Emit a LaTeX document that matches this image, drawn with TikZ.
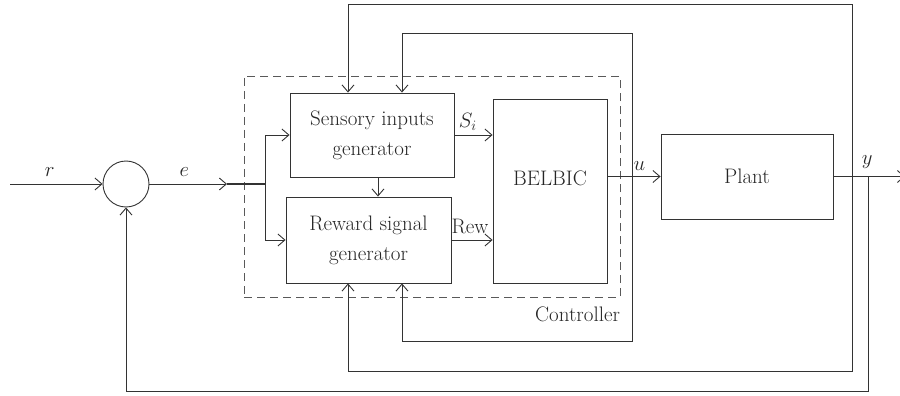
\documentclass[tikz,border=0pt]{standalone}
\usepackage{amsmath}
\usepackage{tikz}
\usetikzlibrary{arrows.meta,positioning,calc}

\begin{document}
\begin{tikzpicture}[
  x=1pt, y=-1pt,
  line width=0.9pt, draw=black!80,
  >={Straight Barb[length=7pt,width=12pt]},
  every node/.style={font=\fontsize{21}{30}\selectfont, text=black!85},
  block/.style={draw, line width=0.9pt, align=center, inner sep=0pt},
  sumnode/.style={circle, draw, line width=0.9pt, minimum size=46pt, inner sep=0pt},
  ctrlbox/.style={draw=black!65, dashed, dash pattern=on 8pt off 5pt,
    line width=0.9pt, inner sep=0pt},
  sig/.style={inner sep=1pt}
]
  \useasboundingbox (0,0) rectangle (900,396);

  \node[sumnode] (sum) at (126,184) {};
  \node[block, minimum width=164pt, minimum height=84pt] (sensory) at (372,135)
    {Sensory inputs\\generator};
  \node[block, minimum width=165pt, minimum height=86pt] (reward) at (368.5,240)
    {Reward signal\\generator};
  \node[block, minimum width=114pt, minimum height=184pt,
    label={[yshift=13pt]center:BELBIC}] (belbic) at (550,191) {};
  \node[block, minimum width=172pt, minimum height=85pt] (plant) at (747,176.5)
    {Plant};
  \node[ctrlbox, minimum width=376pt, minimum height=221pt] (ctrl) at (432,186.5) {};
  \node[anchor=north east, inner sep=0pt] (ctrlname) at ([yshift=-9pt]ctrl.south east)
    {Controller};

  \coordinate (rin) at (10,184);
  \coordinate (ein) at (227,184);
  \coordinate (split) at (265,184);
  \coordinate (utap) at (632,176.5);
  \coordinate (ytap) at (852,176.5);
  \coordinate (ysum) at (868,176.5);
  \coordinate (yout) at (905,176.5);
  \coordinate (ycol) at (348,0);
  \coordinate (ucol) at (402,0);

  \draw[->] (rin) -- node[sig, above=6pt, pos=0.43] {$r$} (sum);
  \draw[->] (sum) -- node[sig, above=6pt, pos=0.45] {$e$} (ein);
  \draw[line width=1.8pt] (ein) -- (split);
  \draw[->] (split) |- (sensory.west);
  \draw[->] (split) |- (reward.west);
  \draw[->] ([xshift=6pt]sensory.south) -- ([xshift=6pt]sensory.south |- reward.north);

  \draw[->] (sensory.east) -- node[sig, above=3pt, pos=0.35] {$S_i$} (sensory.east -| belbic.west);
  \draw[->] (reward.east) -- node[sig, above=5pt, pos=0.45] {Rew} (reward.east -| belbic.west);
  \draw[->] (belbic.east |- plant.west) -- node[sig, above=5pt, pos=0.6] {$u$} (plant.west);
  \draw[->] (plant.east) -- node[sig, above=7pt, pos=0.47] {$y$} (yout);

  % feedback of y and u into both generators
  \draw[->] (ytap) -- (852,4) -| (ycol |- sensory.north);
  \draw[->] (ytap) -- (852,371) -| (ycol |- reward.south);
  \draw[->] (utap) -- (632,33) -| (ucol |- sensory.north);
  \draw[->] (utap) -- (632,341) -| (ucol |- reward.south);
  \draw[->] (ysum) -- (868,391) -| (sum.south);
\end{tikzpicture}
\end{document}
